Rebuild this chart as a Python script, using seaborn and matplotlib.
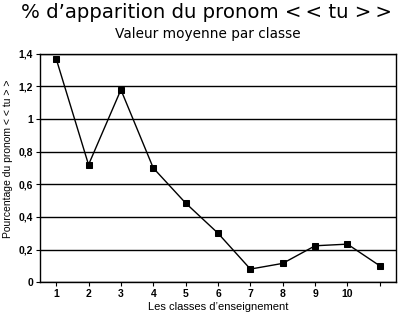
import matplotlib
matplotlib.use("Agg")
import matplotlib.pyplot as plt
import seaborn as sns
import pandas as pd

classes = [1, 2, 3, 4, 5, 6, 7, 8, 9, 10, 11]
valeurs = [1.37, 0.72, 1.18, 0.70, 0.485, 0.30, 0.08, 0.115, 0.223, 0.233, 0.10]
x_labels = ["1", "2", "3", "4", "5", "6", "7", "8", "9", "10", ""]
y_ticks = [0, 0.2, 0.4, 0.6, 0.8, 1.0, 1.2, 1.4]
y_labels = ["0", "0,2", "0,4", "0,6", "0,8", "1", "1,2", "1,4"]

sns.set_theme(style="white")
plt.rcParams["font.family"] = ["Liberation Sans", "DejaVu Sans"]
plt.rcParams["text.color"] = "black"
plt.rcParams["axes.labelcolor"] = "black"
plt.rcParams["xtick.color"] = "black"
plt.rcParams["ytick.color"] = "black"

df = pd.DataFrame({"classe": classes, "valeur": valeurs})

fig = plt.figure(figsize=(4.0, 3.17), dpi=100)
ax = fig.add_axes([0.10, 0.11, 0.89, 0.72])

for yt in y_ticks:
    ax.axhline(yt, color="black", lw=1.0, zorder=1)

sns.lineplot(data=df, x="classe", y="valeur", ax=ax, color="black", lw=1.0,
             marker="s", markersize=5, markeredgecolor="black",
             markerfacecolor="black", zorder=3)

ax.set_xlim(0.5, 11.5)
ax.set_ylim(0, 1.4)
ax.set_xticks(classes)
ax.set_xticklabels(x_labels, fontsize=7.5, fontweight="bold")
ax.set_yticks(y_ticks)
ax.set_yticklabels(y_labels, fontsize=7.5, fontweight="bold")
ax.tick_params(axis="x", length=3, width=0.8, color="black", direction="out", bottom=True, pad=2)
ax.tick_params(axis="y", length=3, width=0.8, color="black", direction="out", left=True, pad=2)
for sp in ax.spines.values():
    sp.set_color("black")
    sp.set_linewidth(1.0)

ax.set_xlabel("Les classes d\u2019enseignement", fontsize=8, labelpad=2, color="black")
ax.set_ylabel("Pourcentage du pronom < < tu > >", fontsize=7.5, color="black")
ax.yaxis.set_label_coords(-0.077, 0.54)

fig.text(0.516, 0.943, "% d\u2019apparition du pronom <\u2009< tu >\u2009>", ha="center",
         va="baseline", fontsize=14.2, family=["DejaVu Sans"], color="black")
fig.text(0.519, 0.880, "Valeur moyenne par classe", ha="center", va="baseline",
         fontsize=9.8, family=["DejaVu Sans"], color="black")

fig.savefig("out.png", dpi=100, facecolor="white")
